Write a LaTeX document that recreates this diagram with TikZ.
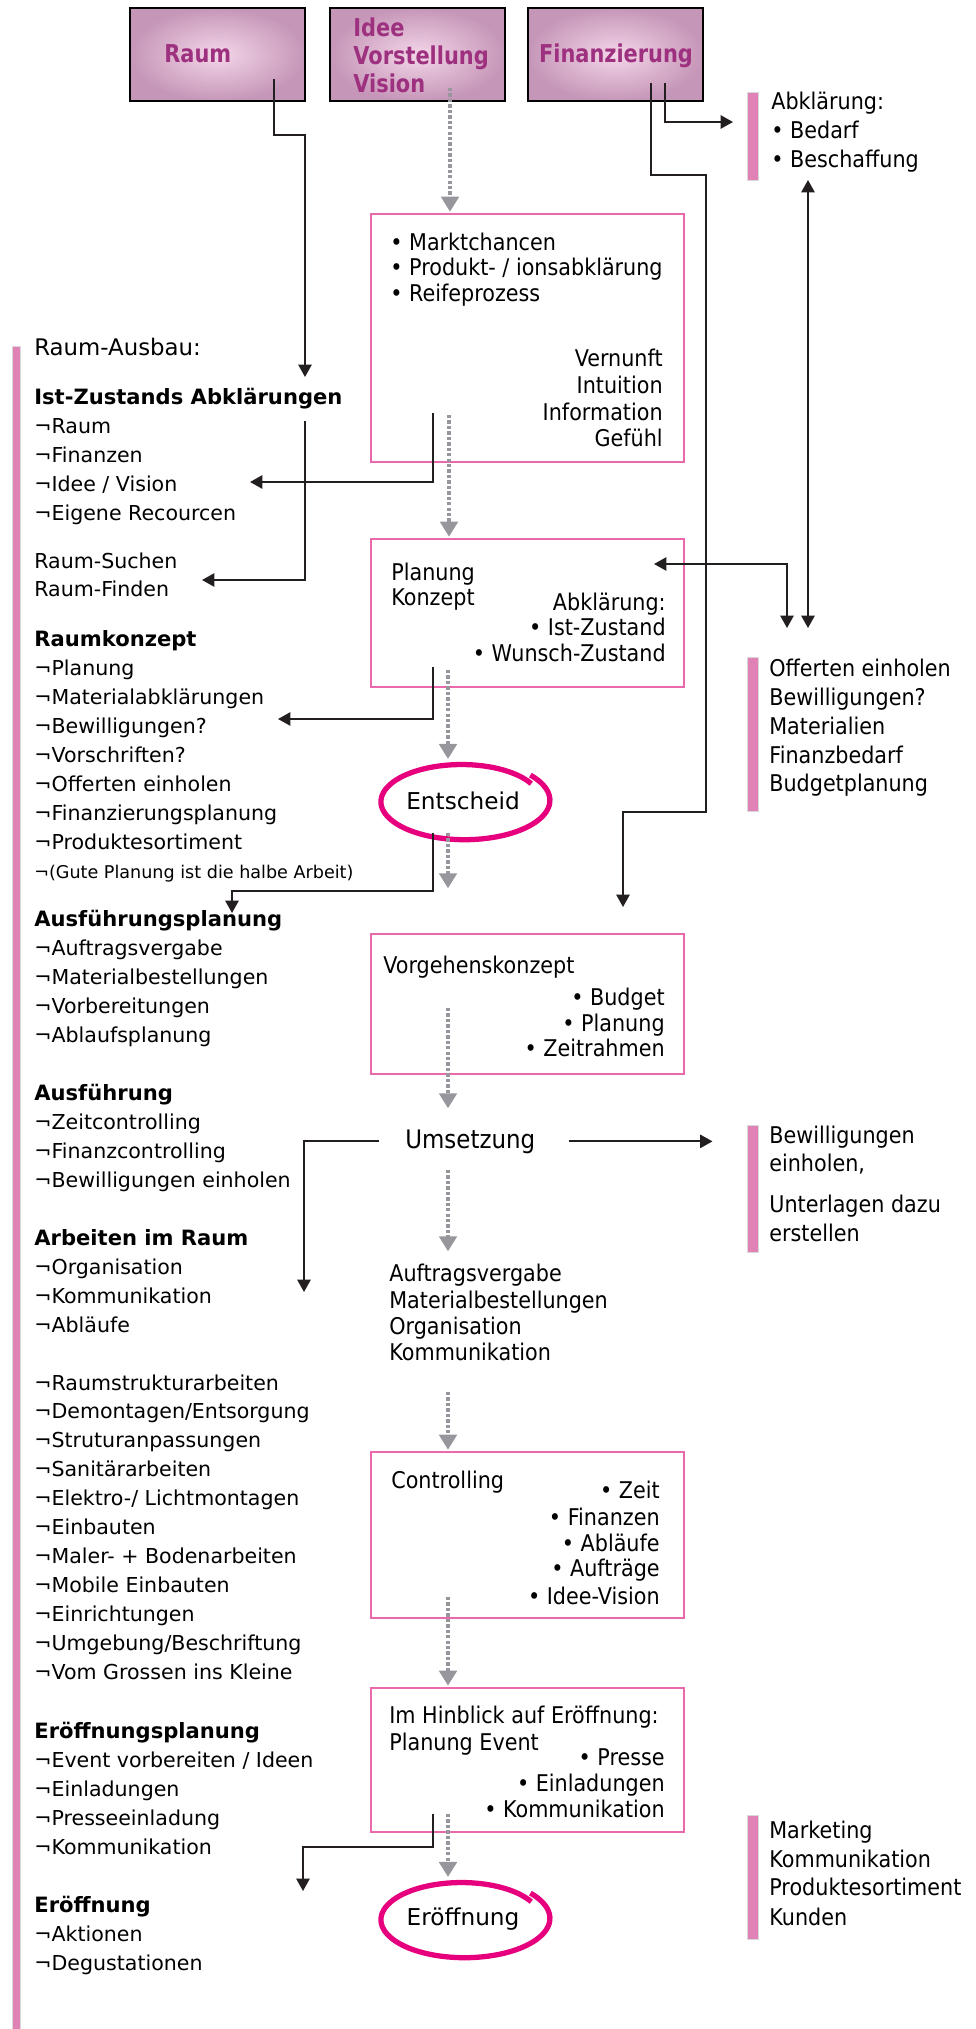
\documentclass[tikz,border=0pt]{standalone}
\usepackage{fontspec}
\setmainfont{DejaVu Sans}
\newfontfamily\narrowfont{DejaVu Sans}[FakeStretch=0.9]
\newfontfamily\topfont{DejaVu Sans}[FakeStretch=0.85]
\usetikzlibrary{arrows.meta,shapes.geometric}

\definecolor{boxpink}{RGB}{234,104,172}
\definecolor{barpink}{RGB}{225,130,182}
\definecolor{ringpink}{RGB}{230,0,126}
\definecolor{flowgray}{RGB}{150,150,156}
\definecolor{linkblack}{RGB}{35,31,32}
\definecolor{toplight}{RGB}{243,214,232}
\definecolor{topdark}{RGB}{198,150,184}
\definecolor{toptext}{RGB}{158,48,128}

%%% pen ring round a node (open spiral)
\newcommand{\penring}[1]{%
  \draw[ringline, shift={(#1.center)}] plot[domain=-331:40, samples=90, smooth]
    ({(0.94+0.12*(\x+331)/371)*83*cos(\x)}, {-(0.94+0.12*(\x+331)/371)*38*sin(\x)});}

\begin{document}
\begin{tikzpicture}[x=0.02cm, y=-0.02cm,
  >={Triangle[width=7.5pt,length=7pt]},
  linkarrow/.style={draw=linkblack, line width=1.1pt, ->},
  flowarrow/.style={draw=flowgray, line width=1.8pt, dash pattern=on 1.9pt off 1.2pt,
    -{Triangle[width=10pt,length=8.5pt]}, shorten >=1pt},
  topbox/.style={draw=black, line width=0.9pt, shade, shading=radial, inner color=toplight,
    outer color=topdark, minimum width=3.5cm, minimum height=1.86cm},
  toplbl/.style={text=toptext, font=\topfont\fontsize{14pt}{16pt}\selectfont\bfseries, inner sep=0pt},
  pbox/.style={draw=boxpink, line width=0.7pt, minimum width=6.26cm},
  pinkbar/.style={fill=barpink, draw=gray!30, line width=0.4pt},
  listitem/.style={anchor=base west, inner sep=0pt, font=\fontsize{11.7pt}{14pt}\selectfont},
  listhead/.style={listitem, font=\fontsize{12pt}{14pt}\selectfont\bfseries},
  ctxt/.style={inner sep=0pt, font=\narrowfont\fontsize{13.1pt}{16pt}\selectfont},
  rtxt/.style={anchor=base west, inner sep=0pt, font=\narrowfont\fontsize{13.1pt}{16pt}\selectfont},
  ringline/.style={draw=ringpink, line width=3pt},
  bigtxt/.style={inner sep=0pt, font=\fontsize{13.2pt}{16pt}\selectfont}
]
\useasboundingbox (0,0) rectangle (975,2029);

%%%%%%%%% top boxes
\node[topbox] (raum) at (217.5,54.5) {};
\node[topbox] (idee) at (417.5,54.5) {};
\node[topbox] (fin) at (615.5,54.5) {};
\node[toplbl, anchor=base west] (raumlbl) at (164,62) {Raum};
\foreach \y/\s [count=\t] in {36/Idee,64/Vorstellung,92/Vision}
  \node[toplbl, anchor=base west] (idee\t) at (353,\y) {\s};
\node[toplbl, anchor=base] (finlbl) at (616,62) {Finanzierung};

%%%%%%%%% pink bars
\fill[pinkbar] (12,346) rectangle (20,2029);
\fill[pinkbar] (747,92) rectangle (758,180);
\fill[pinkbar] (747,657) rectangle (758,811);
\fill[pinkbar] (747,1125) rectangle (758,1252);
\fill[pinkbar] (747,1815) rectangle (758,1939);

%%%%%%%%% middle column boxes
\node[pbox, minimum height=4.96cm] (markt) at (527.5,338) {};
\node[pbox, minimum height=2.96cm] (plan) at (527.5,613) {};
\node[pbox, minimum height=2.8cm] (vorg) at (527.5,1004) {};
\node[pbox, minimum height=3.32cm] (contr) at (527.5,1535) {};
\node[pbox, minimum height=2.88cm] (hinb) at (527.5,1760) {};

\foreach \y/\s [count=\t] in {250/Marktchancen,275/{Produkt- / ionsabklärung},301/Reifeprozess}
  \node[ctxt, anchor=base west] (mk\t) at (390,\y) {• \s};
\foreach \y/\s [count=\t] in {366/Vernunft,393/Intuition,420/Information,446/Gefühl}
  \node[ctxt, anchor=base east] (mw\t) at (663,\y) {\s};

\node[ctxt, anchor=base west] (pl1) at (391,580) {Planung};
\node[ctxt, anchor=base west] (pl2) at (391,605) {Konzept};
\foreach \y/\s [count=\t] in {610/Abklärung:,635/• Ist-Zustand,661/• Wunsch-Zustand}
  \node[ctxt, anchor=base east] (pr\t) at (666,\y) {\s};

\node[ctxt, anchor=base west] (vg1) at (383,973) {Vorgehenskonzept};
\foreach \y/\s [count=\t] in {1005/Budget,1031/Planung,1056/Zeitrahmen}
  \node[ctxt, anchor=base east] (vr\t) at (665,\y) {• \s};

\node[bigtxt, anchor=base west, font=\narrowfont\fontsize{14.5pt}{16pt}\selectfont] (ums) at (405,1148) {Umsetzung};

\foreach \y/\s [count=\t] in {1281/Auftragsvergabe,1308/Materialbestellungen,1334/Organisation,1360/Kommunikation}
  \node[ctxt, anchor=base west] (auf\t) at (389,\y) {\s};

\node[ctxt, anchor=base west] (ct1) at (391,1488) {Controlling};
\foreach \y/\s [count=\t] in {1498/Zeit,1525/Finanzen,1551/Abläufe,1576/Aufträge,1604/Idee-Vision}
  \node[ctxt, anchor=base east] (cr\t) at (660,\y) {• \s};

\node[ctxt, anchor=base west] (hb1) at (389,1723) {Im Hinblick auf Eröffnung:};
\node[ctxt, anchor=base west] (hb2) at (389,1750) {Planung Event};
\foreach \y/\s [count=\t] in {1765/Presse,1791/Einladungen,1817/Kommunikation}
  \node[ctxt, anchor=base east] (hr\t) at (665,\y) {• \s};

%%%%%%%%% rings
\node[ellipse, minimum width=3.4cm, minimum height=1.6cm, bigtxt] (entsch) at (463,801) {Entscheid};
\penring{entsch}
\node[ellipse, minimum width=3.4cm, minimum height=1.6cm, bigtxt] (eroeff) at (463,1919) {Eröffnung};
\penring{eroeff}

%%%%%%%%% right column
\foreach \y/\s [count=\t] in {109/Abklärung:,138/• Bedarf,167/• Beschaffung}
  \node[rtxt] (abkl\t) at (771,\y) {\s};
\foreach \y/\s [count=\t] in {676/Offerten einholen,705/Bewilligungen?,734/Materialien,763/Finanzbedarf,791/Budgetplanung}
  \node[rtxt] (off\t) at (769,\y) {\s};
\foreach \y/\s [count=\t] in {1143/Bewilligungen,1171/{einholen,},1212/Unterlagen dazu,1241/erstellen}
  \node[rtxt] (bew\t) at (769,\y) {\s};
\foreach \y/\s [count=\t] in {1838/Marketing,1867/Kommunikation,1895/Produktesortiment,1925/Kunden}
  \node[rtxt] (mark\t) at (769,\y) {\s};

%%%%%%%%% left column
\node[listitem, font=\fontsize{13pt}{16pt}\selectfont] (ausbau) at (34,355) {Raum-Ausbau:};

\node[listhead] (istz) at (34,404) {Ist-Zustands Abklärungen};
\foreach \s [count=\t] in {Raum,Finanzen,{Idee / Vision},Eigene Recourcen}
  \node[listitem] (istz\t) at (34,{404+29*\t}) {¬\s};

\node[listitem] (such1) at (34,568) {Raum-Suchen};
\node[listitem] (such2) at (34,596) {Raum-Finden};

\node[listhead] (rkonz) at (34,646) {Raumkonzept};
\foreach \s [count=\t] in {Planung,Materialabklärungen,Bewilligungen?,Vorschriften?,Offerten einholen,Finanzierungsplanung,Produktesortiment}
  \node[listitem] (rkonz\t) at (34,{646+29*\t}) {¬\s};
\node[listitem, font=\fontsize{10pt}{12pt}\selectfont] (rkonz8) at (34,878) {¬(Gute Planung ist die halbe Arbeit)};

\node[listhead] (ausfpl) at (34,926) {Ausführungsplanung};
\foreach \s [count=\t] in {Auftragsvergabe,Materialbestellungen,Vorbereitungen,Ablaufsplanung}
  \node[listitem] (ausfpl\t) at (34,{926+29*\t}) {¬\s};

\node[listhead] (ausf) at (34,1100) {Ausführung};
\foreach \s [count=\t] in {Zeitcontrolling,Finanzcontrolling,Bewilligungen einholen}
  \node[listitem] (ausf\t) at (34,{1100+29*\t}) {¬\s};

\node[listhead] (arbeit) at (34,1245) {Arbeiten im Raum};
\foreach \s [count=\t] in {Organisation,Kommunikation,Abläufe}
  \node[listitem] (arbeit\t) at (34,{1245+29*\t}) {¬\s};

\foreach \s [count=\t] in {Raumstrukturarbeiten,{Demontagen/Entsorgung},Struturanpassungen,Sanitärarbeiten,{Elektro-/ Lichtmontagen},Einbauten,Maler- + Bodenarbeiten,Mobile Einbauten,Einrichtungen,{Umgebung/Beschriftung},Vom Grossen ins Kleine}
  \node[listitem] (bau\t) at (34,{1361.1+28.9*\t}) {¬\s};

\node[listhead] (eroepl) at (34,1738) {Eröffnungsplanung};
\foreach \s [count=\t] in {{Event vorbereiten / Ideen},Einladungen,Presseeinladung,Kommunikation}
  \node[listitem] (eroepl\t) at (34,{1738+29*\t}) {¬\s};

\node[listhead] (eroefl) at (34,1912) {Eröffnung};
\foreach \s [count=\t] in {Aktionen,Degustationen}
  \node[listitem] (eroefl\t) at (34,{1912+29*\t}) {¬\s};

%%%%%%%%% black connectors
\coordinate (raumA) at (274,79);
\coordinate (istA) at (305,377);
\draw[linkarrow] (raumA) -- ++(0,56) -| (istA);

\coordinate (finA) at (665,83);
\coordinate (abklA) at (733,122);
\draw[linkarrow] (finA) |- (abklA);

\coordinate (finB) at (651,83);
\coordinate (vorgA) at (623,907);
\draw[linkarrow] (finB) -- ++(0,92) -| ++(55,637) -| (vorgA);

\coordinate (abklB) at (808,180);
\coordinate (offA) at (808,628);
\draw[linkarrow, <->] (abklB) -- (offA);

\coordinate (planA) at (654,564);
\coordinate (offB) at (787,628);
\draw[linkarrow, <->] (planA) -| (offB);

\coordinate (marktA) at (433,413);
\coordinate (istB) at (250,482);
\draw[linkarrow] (marktA) |- (istB);

\coordinate (istC) at (305,421);
\coordinate (suchA) at (202,580);
\draw[linkarrow] (istC) |- (suchA);

\coordinate (planB) at (433,667);
\coordinate (konzA) at (278,719);
\draw[linkarrow] (planB) |- (konzA);

\coordinate (entA) at (433,833);
\coordinate (ausfpA) at (232,913);
\draw[linkarrow] (entA) -- ++(0,58) -| (ausfpA);

\coordinate (arbA) at (304,1292);
\draw[linkarrow] (ums.west) ++(-26,0) -| (arbA);
\draw[linkarrow] (ums.east) ++(33,0) -- ++(144,0);

\coordinate (hinbA) at (433,1814);
\coordinate (eroeA) at (303,1891);
\draw[linkarrow] (hinbA) -- ++(0,33) -| (eroeA);

%%%%%%%%% gray flow arrows
\coordinate (ideeB) at (450,88);
\draw[flowarrow] (ideeB) -- (ideeB |- markt.north);
\coordinate (marktB) at (449,415);
\draw[flowarrow] (marktB) -- (marktB |- plan.north);
\coordinate (planC) at (448,670);
\draw[flowarrow] (planC) -- (planC |- entsch.north);
\coordinate (entschB) at (448,833);
\draw[flowarrow] (entschB) -- ++(0,57);
\coordinate (vorgB) at (448,1008);
\draw[flowarrow] (vorgB) -- ++(0,102);
\coordinate (umsC) at (448,1170);
\draw[flowarrow] (umsC) -- ++(0,83);
\coordinate (aufB) at (448,1392);
\draw[flowarrow] (aufB) -- (aufB |- contr.north);
\coordinate (contrB) at (448,1597);
\draw[flowarrow] (contrB) -- (contrB |- hinb.north);
\coordinate (hinbB) at (448,1814);
\draw[flowarrow] (hinbB) -- (hinbB |- eroeff.north);

\end{tikzpicture}
\end{document}
